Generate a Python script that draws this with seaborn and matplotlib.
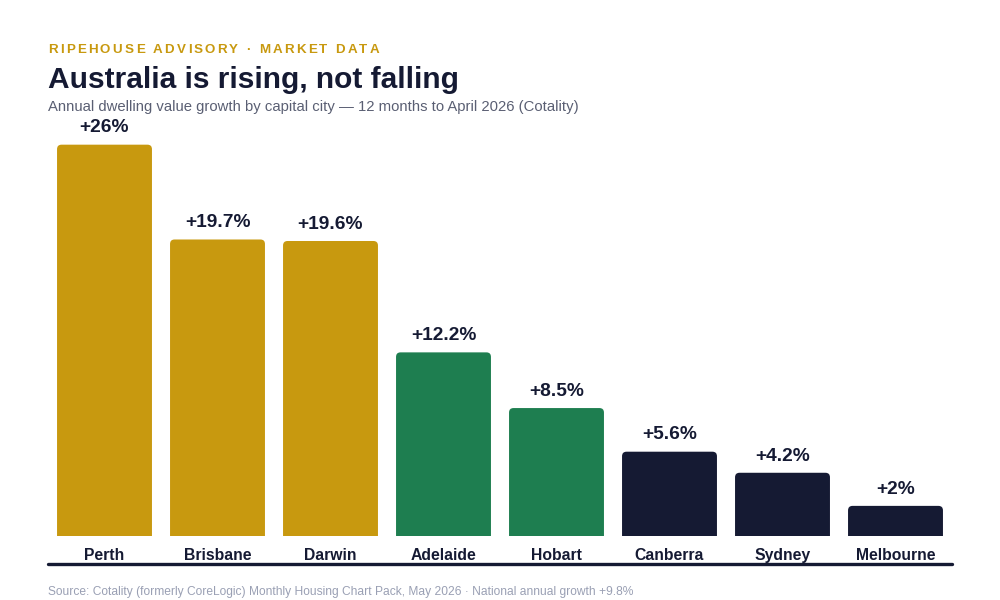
import matplotlib
matplotlib.use("Agg")
import matplotlib.pyplot as plt
from matplotlib.patches import FancyBboxPatch
from matplotlib.lines import Line2D
from matplotlib.textpath import TextToPath
from matplotlib.font_manager import FontProperties
import pandas as pd
import seaborn as sns

# data
cities = ["Perth", "Brisbane", "Darwin", "Adelaide", "Hobart", "Canberra", "Sydney", "Melbourne"]
growth = [26.0, 19.7, 19.6, 12.2, 8.5, 5.6, 4.2, 2.0]
labels = ["+26%", "+19.7%", "+19.6%", "+12.2%", "+8.5%", "+5.6%", "+4.2%", "+2%"]
tiers = ["top", "top", "top", "mid", "mid", "low", "low", "low"]

GOLD = "#C8990F"
GREEN = "#1E7E50"
NAVY = "#151A33"
palette = {"top": GOLD, "mid": GREEN, "low": NAVY}

df = pd.DataFrame({"city": cities, "growth": growth, "tier": tiers})

sns.set_theme(style="white")
plt.rcParams["font.family"] = ["Liberation Sans", "DejaVu Sans"]

fig = plt.figure(figsize=(10, 6), dpi=100)
fig.patch.set_facecolor("white")
ax = fig.add_axes([0.048, 0.1067, 0.904, 0.75])

sns.barplot(data=df, x="city", y="growth", hue="tier", palette=palette,
            dodge=False, width=0.84, legend=False, ax=ax, saturation=1)

# swap plain bars for top-rounded ones
for p in list(ax.patches):
    x0, w, h = p.get_x(), p.get_width(), p.get_height()
    if h == 0:
        p.remove()
        continue
    fc = p.get_facecolor()
    p.remove()
    rb = FancyBboxPatch((x0, -1), w, h + 1,
                        boxstyle="round,pad=0,rounding_size=0.04",
                        mutation_aspect=7.5, fc=fc, ec="none", clip_on=True)
    ax.add_patch(rb)

for i, (v, lab) in enumerate(zip(growth, labels)):
    ax.annotate(lab, (i, v), xytext=(0, 8.8), textcoords="offset points",
                ha="center", va="baseline", fontsize=13.8, fontweight="bold", color=NAVY)

ax.set_xlim(-0.5, 7.5)
ax.set_ylim(0, 29.9)
ax.set_xlabel("")
ax.set_ylabel("")
ax.set_yticks([])
for s in ax.spines.values():
    s.set_visible(False)
ax.tick_params(axis="x", length=0, pad=8.5)
for t in ax.get_xticklabels():
    t.set_fontweight("bold")
    t.set_fontsize(11.3)
    t.set_color(NAVY)

# bottom rule
fig.add_artist(Line2D([0.048, 0.952], [1 - 563.5 / 600, 1 - 563.5 / 600], color=NAVY, lw=2.4))

# letter-spaced kicker
kicker = "RIPEHOUSE ADVISORY · MARKET DATA"
prop = FontProperties(family="Liberation Sans", weight="bold", size=9.6)
ttp = TextToPath()
xpx = 48.0
spacing = 2.25
for ch in kicker:
    fig.text(xpx / 1000, 1 - 53 / 600, ch, fontproperties=prop, color=GOLD, va="baseline")
    w, _, _ = ttp.get_text_width_height_descent(ch, prop, ismath=False)
    xpx += w * 100 / 72 + spacing

fig.text(0.048, 1 - 88 / 600, "Australia is rising, not falling", fontsize=21.5,
         fontweight="bold", color=NAVY, va="baseline")
fig.text(0.048, 1 - 111 / 600,
         "Annual dwelling value growth by capital city \u2014 12 months to April 2026 (Cotality)",
         fontsize=10.75, color="#5A5F73", va="baseline")
fig.text(0.048, 1 - 595 / 600,
         "Source: Cotality (formerly CoreLogic) Monthly Housing Chart Pack, May 2026 \u00b7 National annual growth +9.8%",
         fontsize=8.65, color="#9AA0B4", va="baseline")

fig.savefig("out.png", dpi=100, facecolor="white")
